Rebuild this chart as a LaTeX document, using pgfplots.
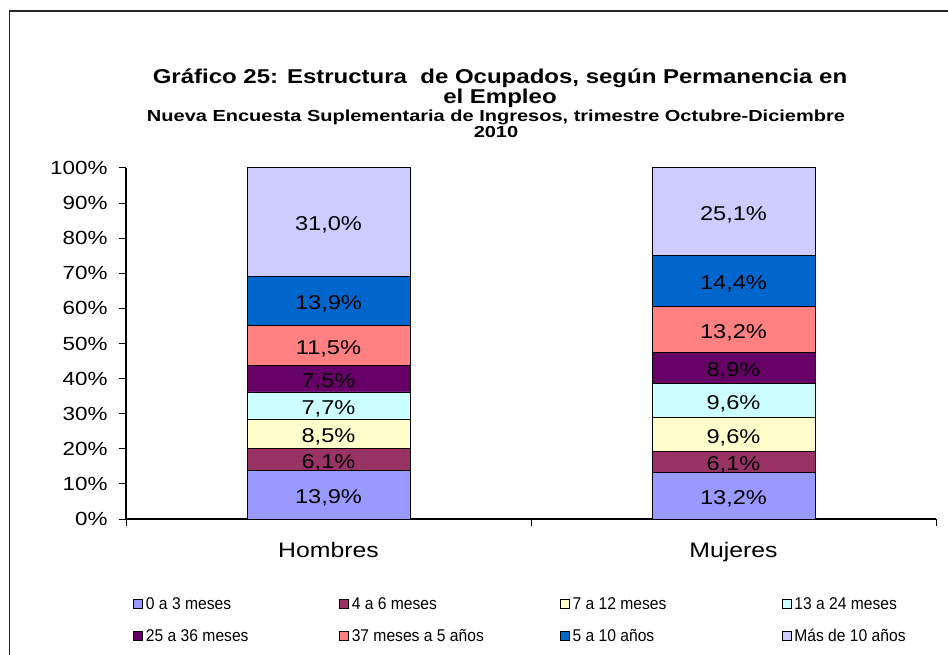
\documentclass[border=0pt]{standalone}
\usepackage{pgfplots}
\pgfplotsset{compat=1.18}
\usepackage{fontspec}
\setmainfont{Liberation Sans}
\newfontfamily\narrowfont[FakeStretch=0.92]{Liberation Sans}
\newfontfamily\titlefont[FakeStretch=1.2]{Liberation Sans}
\newfontfamily\subfont[FakeStretch=1.25]{Liberation Sans}
\newfontfamily\widefont[FakeStretch=1.18]{Liberation Sans}
\definecolor{c1}{HTML}{9999FF}
\definecolor{c2}{HTML}{993366}
\definecolor{c3}{HTML}{FFFFCC}
\definecolor{c4}{HTML}{CCFFFF}
\definecolor{c5}{HTML}{660066}
\definecolor{c6}{HTML}{FF8080}
\definecolor{c7}{HTML}{0066CC}
\definecolor{c8}{HTML}{CCCCFF}
\pgfplotstableread{
x y v
0 6.95 13.9
0 16.95 6.1
0 24.25 8.5
0 32.35 7.7
0 39.95 7.5
0 49.45 11.5
0 62.15 13.9
0 84.6 31.0
1 6.6 13.2
1 16.25 6.1
1 24.1 9.6
1 33.7 9.6
1 42.95 8.9
1 54.0 13.2
1 67.8 14.4
1 87.55 25.1
}\labeltable
\pgfplotsset{sqlegend/.style={legend image code/.code={\draw[##1,draw=black,line width=0.8pt] (0pt,-4.5pt) rectangle (9pt,4.5pt);}}}
\begin{document}
\begin{tikzpicture}[x=1pt,y=1pt]
\path[use as bounding box] (0,0) rectangle (948,654);
\draw[line width=1.5pt, black!85] (9.5,-10) -- (9.5,643) -- (960,643);
\node[font=\titlefont\bfseries\fontsize{20}{20}\selectfont] at (500,576) {Gráfico 25: Estructura\ \ de Ocupados, según Permanencia en};
\node[font=\titlefont\bfseries\fontsize{20}{20}\selectfont] at (500,556) {el Empleo};
\node[font=\subfont\bfseries\fontsize{16}{16}\selectfont] at (496,537) {Nueva Encuesta Suplementaria de Ingresos, trimestre Octubre-Diciembre};
\node[font=\subfont\bfseries\fontsize{16}{16}\selectfont] at (496,522) {2010};
\begin{axis}[
  at={(126pt,135pt)}, anchor=south west, scale only axis,
  width=810pt, height=351pt,
  ybar stacked, bar width=163pt,
  xmin=-0.5, xmax=1.5, ymin=0, ymax=100,
  axis x line=bottom, axis y line=left,
  axis line style={-, line width=1.2pt},
  clip=false,
  ytick={0,10,...,100},
  yticklabels={0\%,10\%,20\%,30\%,40\%,50\%,60\%,70\%,80\%,90\%,100\%},
  yticklabel style={font=\widefont\fontsize{19}{22}\selectfont, xshift=-8pt},
  xtick={-0.5,0.5,1.5}, xticklabels={},
  extra x ticks={0,1}, extra x tick labels={Hombres,Mujeres},
  extra x tick style={major tick length=0pt, ticklabel style={font=\widefont\fontsize{21}{24}\selectfont, yshift=-20pt}},
  tick align=outside, major tick length=7pt,
  tick style={black, line width=1pt},
  every axis plot post/.append style={sqlegend},
  legend columns=4,
  legend style={draw=none, fill=none, at={(0.0086,-0.223)}, anchor=north west,
    font=\narrowfont\fontsize{17}{20}\selectfont, inner sep=0pt,
    nodes={inner sep=0pt, anchor=west},
    /tikz/every odd column/.append style={column sep=3pt},
    /tikz/every even column/.append style={column sep=0pt},
    row sep=18pt},
]
\addplot[fill=c1, draw=black, line width=0.8pt] coordinates {(0,13.9) (1,13.2)};
\addplot[fill=c2, draw=black, line width=0.8pt] coordinates {(0,6.1) (1,6.1)};
\addplot[fill=c3, draw=black, line width=0.8pt] coordinates {(0,8.5) (1,9.6)};
\addplot[fill=c4, draw=black, line width=0.8pt] coordinates {(0,7.7) (1,9.6)};
\addplot[fill=c5, draw=black, line width=0.8pt] coordinates {(0,7.5) (1,8.9)};
\addplot[fill=c6, draw=black, line width=0.8pt] coordinates {(0,11.5) (1,13.2)};
\addplot[fill=c7, draw=black, line width=0.8pt] coordinates {(0,13.9) (1,14.4)};
\addplot[fill=c8, draw=black, line width=0.8pt] coordinates {(0,31.0) (1,25.1)};
\legend{\makebox[193pt][l]{0 a 3 meses},\makebox[208pt][l]{4 a 6 meses},\makebox[209pt][l]{7 a 12 meses},13 a 24 meses,
\makebox[193pt][l]{25 a 36 meses},\makebox[208pt][l]{37 meses a 5 años},\makebox[209pt][l]{5 a 10 años},Más de 10 años}
\end{axis}
\begin{axis}[
  at={(126pt,135pt)}, anchor=south west, scale only axis,
  width=810pt, height=351pt,
  xmin=-0.5, xmax=1.5, ymin=0, ymax=100,
  hide axis, clip=false,
]
\addplot[draw=none, mark=none, nodes near coords={\pgfmathprintnumber[fixed,fixed zerofill,precision=1,use comma,assume math mode=true]{\pgfplotspointmeta}\%},
  point meta=explicit,
  every node near coord/.style={anchor=center, yshift=-3pt, font=\widefont\fontsize{20}{24}\selectfont, text=black}]
  table[x=x, y=y, meta=v] {\labeltable};
\end{axis}
\end{tikzpicture}
\end{document}
